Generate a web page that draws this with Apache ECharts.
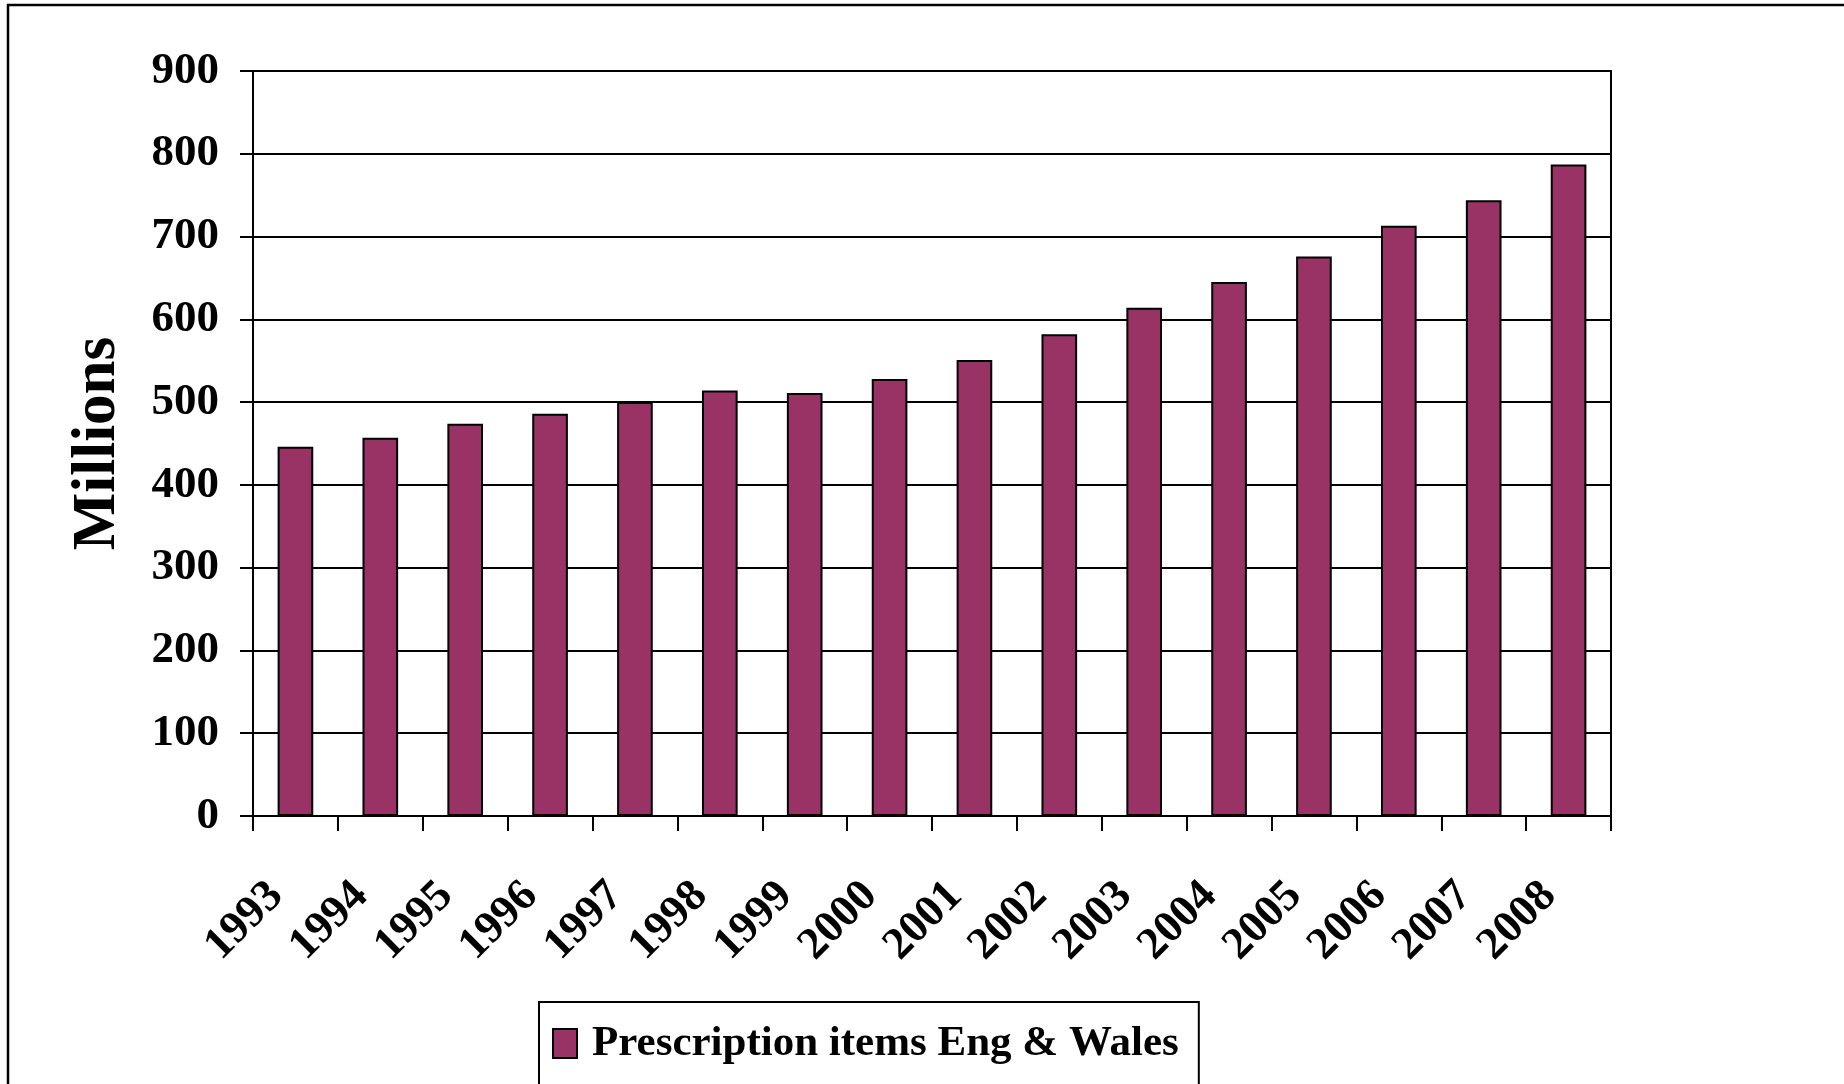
<!DOCTYPE html>
<html>
<head>
<meta charset="utf-8">
<title>Prescription items Eng &amp; Wales</title>
<script src="https://cdn.jsdelivr.net/npm/echarts@6/dist/echarts.min.js"></script>
<style>
  html, body { margin: 0; padding: 0; background: #fff; }
  #chart { width: 1844px; height: 1084px; }
</style>
</head>
<body>
<div id="chart"></div>
<script>
// Prescription items dispensed, England & Wales (millions)
const years = ['1993', '1994', '1995', '1996', '1997', '1998', '1999', '2000',
               '2001', '2002', '2003', '2004', '2005', '2006', '2007', '2008'];
const items = [446, 457, 474, 486, 500, 514, 511, 528,
               551, 582, 614, 645, 676, 713, 744, 787];
const seriesName = 'Prescription items Eng & Wales';
const yTicks = [0, 100, 200, 300, 400, 500, 600, 700, 800, 900];

const serif = '"Liberation Serif", "Times New Roman", "DejaVu Serif", serif';
const plum = '#993366';

const chart = echarts.init(document.getElementById('chart'), null, { renderer: 'canvas' });

chart.setOption({
  backgroundColor: '#ffffff',
  animation: false,
  textStyle: { fontFamily: serif },
  graphic: [{
    type: 'rect',
    shape: { x: 8, y: 5, width: 2000, height: 2000 },
    style: { fill: 'none', stroke: '#000', lineWidth: 2.5 },
    silent: true
  }],
  grid: {
    left: 253, right: 1844 - 1611, top: 71, bottom: 1084 - 816,
    show: true, borderColor: '#000', borderWidth: 2, backgroundColor: 'transparent'
  },
  legend: {
    data: [seriesName],
    left: 539, top: 1002,
    orient: 'horizontal',
    icon: 'rect',
    itemWidth: 24, itemHeight: 29,
    itemGap: 10,
    padding: [20, 20, 20, 13],
    borderColor: '#000', borderWidth: 2,
    backgroundColor: '#fff',
    itemStyle: { borderColor: '#000', borderWidth: 2 },
    textStyle: {
      fontFamily: serif, fontWeight: 'bold', fontSize: 43, color: '#000',
      padding: [0, 0, 0, 10]
    }
  },
  xAxis: {
    type: 'category',
    data: years,
    boundaryGap: true,
    axisLine: { show: true, lineStyle: { color: '#000', width: 2 } },
    axisTick: { show: true, alignWithLabel: false, length: 15, lineStyle: { color: '#000', width: 2 } },
    axisLabel: {
      rotate: 45, interval: 0, margin: 54,
      padding: [0, 27, 0, 0],
      fontFamily: serif, fontWeight: 'bold', fontSize: 45, color: '#000'
    },
    splitLine: { show: false }
  },
  yAxis: {
    type: 'value',
    min: 0, max: 900, interval: 100,
    name: 'Millions',
    nameLocation: 'middle',
    nameGap: 124,
    nameRotate: 90,
    nameTextStyle: { fontFamily: serif, fontWeight: 'bold', fontSize: 61, color: '#000' },
    axisLine: { show: true, lineStyle: { color: '#000', width: 2 } },
    axisTick: { show: true, inside: false, length: 13, lineStyle: { color: '#000', width: 2 } },
    axisLabel: {
      margin: 34,
      fontFamily: serif, fontWeight: 'bold', fontSize: 45, color: '#000',
      formatter: v => (yTicks.indexOf(v) >= 0 ? String(v) : '')
    },
    splitLine: { show: true, lineStyle: { color: '#000', width: 2 } }
  },
  series: [{
    name: seriesName,
    type: 'bar',
    data: items,
    barCategoryGap: '58%',
    itemStyle: { color: plum, borderColor: '#000', borderWidth: 2 },
    emphasis: { disabled: true }
  }]
});
</script>
</body>
</html>
